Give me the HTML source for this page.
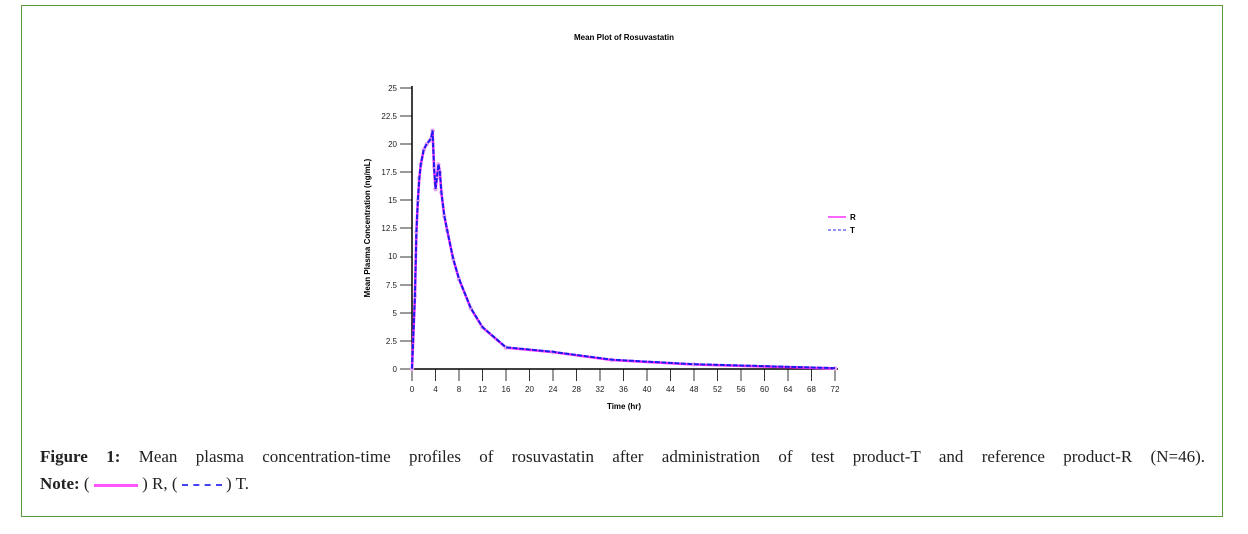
<!DOCTYPE html>
<html><head><style>
body{margin:0;background:#fff;width:1248px;height:534px;overflow:hidden;position:relative;font-family:"Liberation Sans",sans-serif}
.box{position:absolute;left:21px;top:5px;width:1200px;height:510px;border:1px solid #5b9a3c}
.cap{position:absolute;left:40px;top:447px;width:1165px;font-family:"Liberation Serif",serif;font-size:17px;color:#222;text-align:justify;text-align-last:justify;word-spacing:3px}
.cap2{position:absolute;left:40px;top:474px;font-family:"Liberation Serif",serif;font-size:17px;color:#222}
</style></head><body>
<div class="box"></div>
<svg width="1248" height="534" style="position:absolute;left:0;top:0" font-family="Liberation Sans, sans-serif">
<text x="624" y="40" font-size="8" font-weight="bold" text-anchor="middle">Mean Plot of Rosuvastatin</text>
<line x1="412" y1="86" x2="412" y2="370" stroke="#000" stroke-width="1.5"/>
<line x1="411" y1="369" x2="838" y2="369" stroke="#000" stroke-width="1.5"/>
<g font-size="8" text-anchor="end" fill="#222">
<text x="397" y="91">25</text><text x="397" y="119">22.5</text><text x="397" y="147">20</text><text x="397" y="175">17.5</text><text x="397" y="203">15</text><text x="397" y="231">12.5</text><text x="397" y="259">10</text><text x="397" y="288">7.5</text><text x="397" y="316">5</text><text x="397" y="344">2.5</text><text x="397" y="372">0</text>
</g>
<g stroke="#000" stroke-width="0.8">
<line x1="400" y1="88" x2="412" y2="88"/><line x1="400" y1="116" x2="412" y2="116"/><line x1="400" y1="144" x2="412" y2="144"/><line x1="400" y1="172" x2="412" y2="172"/><line x1="400" y1="200" x2="412" y2="200"/><line x1="400" y1="228" x2="412" y2="228"/><line x1="400" y1="257" x2="412" y2="257"/><line x1="400" y1="285" x2="412" y2="285"/><line x1="400" y1="313" x2="412" y2="313"/><line x1="400" y1="341" x2="412" y2="341"/><line x1="400" y1="369" x2="412" y2="369"/>
</g>
<g id="xt" stroke="#000" stroke-width="0.8"></g>
<g id="xl" font-size="8" text-anchor="middle" fill="#222"></g>
<text x="624" y="409" font-size="8" font-weight="bold" text-anchor="middle">Time (hr)</text>
<text transform="translate(370,228) rotate(-90)" font-size="8" font-weight="bold" text-anchor="middle">Mean Plasma Concentration (ng/mL)</text>
<polyline id="r" fill="none" stroke="#ff33ff" stroke-width="2.6"/>
<g id="m" fill="#e8a0f0"></g>
<polyline id="t" fill="none" stroke="#1a1aee" stroke-width="2" stroke-dasharray="5,1.5"/>
<line x1="828" y1="217" x2="846" y2="217" stroke="#ff33ff" stroke-width="1.5"/>
<line x1="828" y1="230" x2="846" y2="230" stroke="#2222ee" stroke-width="1" stroke-dasharray="3,2"/>
<text x="850" y="220" font-size="8" font-weight="bold">R</text>
<text x="850" y="233" font-size="8" font-weight="bold">T</text>
</svg>
<div class="cap"><b>Figure 1:</b> Mean plasma concentration-time profiles of rosuvastatin after administration of test product-T and reference product-R (N=46).</div>
<div class="cap2"><b>Note:</b> ( <span style="display:inline-block;width:44px;height:3px;background:#ff55ff;vertical-align:middle"></span> ) R, ( <span style="display:inline-block;width:40px;border-top:2px dashed #4444ee;vertical-align:middle"></span> ) T.</div>
<script>
var d=[[0,0],[0.5,6.5],[0.75,12.2],[1,15],[1.25,17],[1.5,18.2],[2,19.5],[2.5,20],[3,20.3],[3.25,20.5],[3.5,21.2],[3.75,18],[4,16],[4.25,17],[4.5,18.2],[4.75,17.5],[5,15.7],[5.5,13.6],[6,12.3],[7,9.8],[8,8],[10,5.4],[12,3.7],[16,1.9],[24,1.5],[34,0.8],[48,0.4],[72,0.05]];
function p(o){return d.map(function(a){return (412+5.875*a[0])+","+(369-11.24*(a[1]+o))}).join(" ")}
document.getElementById('r').setAttribute('points',p(0));
document.getElementById('t').setAttribute('points',p(0.03));
var m='';d.forEach(function(a){m+='<circle cx="'+(412+5.875*a[0])+'" cy="'+(369-11.24*a[1])+'" r="2.2"/>'});
document.getElementById('m').innerHTML=m;
var xt='',xl='';
for(var i=0;i<=72;i+=4){var x=412+5.875*i;xt+='<line x1="'+x+'" y1="369" x2="'+x+'" y2="381"/>';xl+='<text x="'+x+'" y="392">'+i+'</text>';}
document.getElementById('xt').innerHTML=xt;document.getElementById('xl').innerHTML=xl;
</script>
</body></html>
